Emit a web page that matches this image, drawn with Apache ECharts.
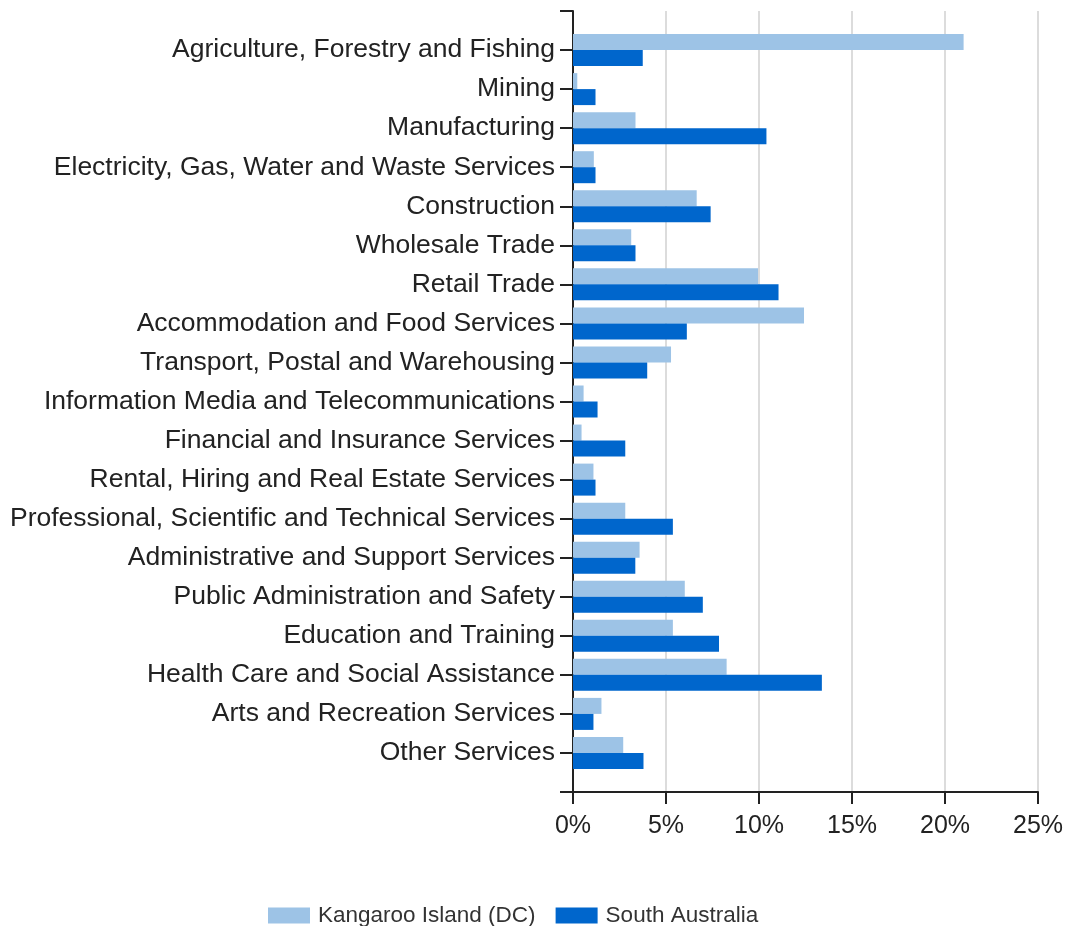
<!DOCTYPE html>
<html>
<head>
<meta charset="utf-8">
<script src="https://cdn.jsdelivr.net/npm/echarts@6/dist/echarts.min.js"></script>
<style>
html,body{margin:0;padding:0;background:#fff;}
#chart{width:1067px;height:926px;}
</style>
</head>
<body>
<div id="chart"></div>
<script>
const categories = [
  "Agriculture, Forestry and Fishing",
  "Mining",
  "Manufacturing",
  "Electricity, Gas, Water and Waste Services",
  "Construction",
  "Wholesale Trade",
  "Retail Trade",
  "Accommodation and Food Services",
  "Transport, Postal and Warehousing",
  "Information Media and Telecommunications",
  "Financial and Insurance Services",
  "Rental, Hiring and Real Estate Services",
  "Professional, Scientific and Technical Services",
  "Administrative and Support Services",
  "Public Administration and Safety",
  "Education and Training",
  "Health Care and Social Assistance",
  "Arts and Recreation Services",
  "Other Services"
];
const kangarooIsland = [21.0, 0.23, 3.36, 1.12, 6.65, 3.13, 9.95, 12.42, 5.27, 0.57, 0.46, 1.10, 2.81, 3.58, 6.01, 5.37, 8.26, 1.53, 2.70];
const southAustralia = [3.75, 1.21, 10.4, 1.21, 7.4, 3.36, 11.05, 6.12, 3.99, 1.32, 2.81, 1.21, 5.37, 3.35, 6.98, 7.85, 13.38, 1.10, 3.79];
const xTicks = [0, 5, 10, 15, 20, 25];
const seriesNames = ["Kangaroo Island (DC)", "South Australia"];

const FONT = "'Liberation Sans', Arial, sans-serif";
const axisCats = [''].concat(categories, ['']);
const pad = arr => [null].concat(arr, [null]);

const chart = echarts.init(document.getElementById('chart'), null, {renderer: 'canvas'});
chart.setOption({
  animation: false,
  textStyle: {fontFamily: FONT},
  grid: {left: 573, top: 11, right: 29, bottom: 134, containLabel: false},
  legend: {
    left: 263, top: 899,
    itemWidth: 42, itemHeight: 16, itemGap: 20,
    icon: 'rect',
    textStyle: {fontSize: 22.5, color: '#333', fontFamily: FONT, padding: [0, 0, 0, 3]},
    data: seriesNames
  },
  xAxis: {
    type: 'value',
    min: xTicks[0], max: xTicks[xTicks.length - 1], interval: 5,
    axisLine: {show: true, lineStyle: {color: '#222', width: 2}},
    axisTick: {show: true, length: 12, lineStyle: {color: '#222', width: 2}},
    axisLabel: {formatter: '{value}%', fontSize: 25, color: '#222', margin: 22, fontFamily: FONT},
    splitLine: {show: true, lineStyle: {color: '#dcdcdc', width: 2}}
  },
  yAxis: {
    type: 'category',
    data: axisCats,
    inverse: true,
    boundaryGap: false,
    axisLine: {show: true, lineStyle: {color: '#222', width: 2}},
    axisTick: {show: true, length: 13, interval: 0, lineStyle: {color: '#222', width: 2}},
    axisLabel: {interval: 0, fontSize: 26.5, color: '#222', margin: 18, fontFamily: FONT},
    splitLine: {show: false}
  },
  series: [
    {
      name: seriesNames[0], type: 'bar', data: pad(kangarooIsland),
      barWidth: 16, barGap: '0%',
      itemStyle: {color: '#9DC3E6'}
    },
    {
      name: seriesNames[1], type: 'bar', data: pad(southAustralia),
      barWidth: 16, barGap: '0%',
      itemStyle: {color: '#0066CC'}
    }
  ]
});
</script>
</body>
</html>
